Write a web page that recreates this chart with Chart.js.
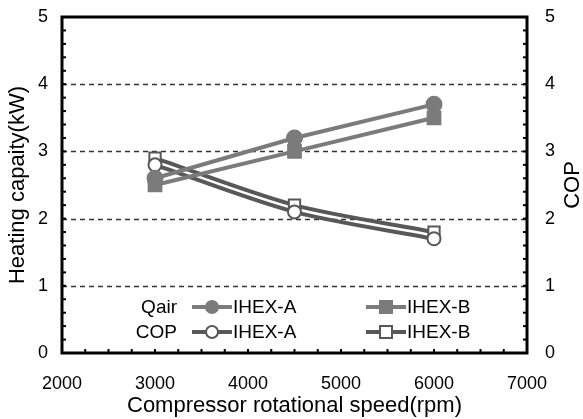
<!DOCTYPE html>
<html>
<head>
<meta charset="utf-8">
<script src="https://cdn.jsdelivr.net/npm/chart.js@4"></script>
<style>
  body { margin: 0; background: #fff; }
  #wrap { width: 583px; height: 419px; }
</style>
</head>
<body>
<div id="wrap"><canvas id="chart1" width="583" height="419"></canvas></div>
<script>
// rpm
var speeds = [3000, 4500, 6000]
// heating capacity, kW
var qairA = [2.6, 3.2, 3.7]
var qairB = [2.5, 3.0, 3.5]
// COP
var copA = [2.8, 2.1, 1.7]
var copB = [2.9, 2.2, 1.8]
var yTicks = [0, 1, 2, 3, 4, 5]
var xTicks = [2000, 3000, 4000, 5000, 6000, 7000]

var lightGray = '#7b7b7b'
var darkGray = '#585858'
var font = 'Liberation Sans, Arial, sans-serif'

function pts(xs, ys) {
  return xs.map(function (x, i) { return { x: x, y: ys[i] } })
}

// dashed grid, inner minor ticks, frame, right title
var framePlugin = {
  id: 'frame',
  beforeDatasetsDraw: function (chart) {
    var c = chart.ctx, a = chart.chartArea
    var yl = chart.scales.y
    c.save()
    c.strokeStyle = '#333'
    c.lineWidth = 1.5
    c.setLineDash([5, 4])
    for (var v = 1; v <= 4; v++) {
      var py = Math.round(yl.getPixelForValue(v)) + 0.5
      c.beginPath(); c.moveTo(a.left, py); c.lineTo(a.right, py); c.stroke()
    }
    c.restore()
  },
  afterDatasetsDraw: function (chart) {
    var c = chart.ctx, a = chart.chartArea
    var xs = chart.scales.x, yl = chart.scales.y
    c.save()
    c.strokeStyle = '#000'
    c.lineWidth = 2
    for (var v = 0.2; v < 5; v += 0.2) {
      var py = yl.getPixelForValue(v)
      c.beginPath(); c.moveTo(a.left, py); c.lineTo(a.left + 4, py); c.stroke()
      c.beginPath(); c.moveTo(a.right, py); c.lineTo(a.right - 4, py); c.stroke()
    }
    for (var r = 2250; r < 7000; r += 250) {
      var px = xs.getPixelForValue(r)
      c.beginPath(); c.moveTo(px, a.bottom); c.lineTo(px, a.bottom - 4); c.stroke()
    }
    c.lineWidth = 3
    c.strokeRect(a.left, a.top, a.right - a.left, a.bottom - a.top)

    // right axis title, reading bottom to top like the left one
    c.translate(a.right + 46, (a.top + a.bottom) / 2)
    c.rotate(-Math.PI / 2)
    c.fillStyle = '#000'
    c.font = '22px ' + font
    c.textAlign = 'center'
    c.textBaseline = 'middle'
    c.fillText('COP', 0, 0)
    c.restore()
  }
}

// legend drawn inside the plot
var legendPlugin = {
  id: 'innerLegend',
  afterDraw: function (chart) {
    var c = chart.ctx, a = chart.chartArea
    var rows = [
      { name: 'Qair', items: [[0, 'IHEX-A'], [1, 'IHEX-B']] },
      { name: 'COP', items: [[2, 'IHEX-A'], [3, 'IHEX-B']] }
    ]
    c.save()
    c.font = '19px ' + font
    c.textBaseline = 'middle'
    rows.forEach(function (row, ri) {
      var y = a.bottom - 46 + ri * 25
      c.fillStyle = '#000'
      c.textAlign = 'right'
      c.fillText(row.name, a.left + 115, y + 1)
      row.items.forEach(function (it, ii) {
        var ds = chart.data.datasets[it[0]]
        var x0 = a.left + 130 + ii * 174
        c.strokeStyle = ds.borderColor
        c.lineWidth = 4
        c.beginPath(); c.moveTo(x0, y); c.lineTo(x0 + 40, y); c.stroke()
        var mx = x0 + 20
        c.fillStyle = ds.pointBackgroundColor
        c.strokeStyle = ds.pointBorderColor
        c.lineWidth = 2
        if (ds.pointStyle === 'circle') {
          c.beginPath(); c.arc(mx, y, 6, 0, Math.PI * 2); c.fill(); c.stroke()
        } else {
          c.fillRect(mx - 6, y - 6, 12, 12); c.strokeRect(mx - 6, y - 6, 12, 12)
        }
        c.fillStyle = '#000'
        c.textAlign = 'left'
        c.fillText(it[1], x0 + 41, y + 1)
      })
    })
    c.restore()
  }
}

var data = {
  datasets: [{
    data: pts(speeds, qairA),
    borderColor: lightGray,
    pointBackgroundColor: lightGray,
    pointBorderColor: lightGray,
    pointStyle: 'circle',
    pointRadius: 7.5,
    yAxisID: 'y'
  }, {
    data: pts(speeds, qairB),
    borderColor: lightGray,
    pointBackgroundColor: lightGray,
    pointBorderColor: lightGray,
    pointStyle: 'rect',
    pointRadius: 9,
    yAxisID: 'y'
  }, {
    data: pts(speeds, copA),
    borderColor: darkGray,
    pointBackgroundColor: '#fff',
    pointBorderColor: darkGray,
    pointStyle: 'circle',
    pointRadius: 6.5,
    tension: 0.3,
    yAxisID: 'y1'
  }, {
    data: pts(speeds, copB),
    borderColor: darkGray,
    pointBackgroundColor: '#fff',
    pointBorderColor: darkGray,
    pointStyle: 'rect',
    pointRadius: 8,
    tension: 0.3,
    yAxisID: 'y1'
  }]
}

var tickFont = { family: font, size: 18 }
var titleFont = { family: font, size: 22, lineHeight: 1 }

// fixed axis sizes so the plot box sits where the original one does
function fitY(w) {
  return function (s) { s.width = w; s.paddingTop = 10; s.paddingBottom = 10 }
}

new Chart(document.getElementById('chart1').getContext('2d'), {
  type: 'line',
  data: data,
  plugins: [framePlugin, legendPlugin],
  options: {
    responsive: false,
    animation: false,
    layout: { autoPadding: false, padding: { top: 17, right: 0, left: 0, bottom: 0 } },
    elements: {
      line: { borderWidth: 4 },
      point: { borderWidth: 2 }
    },
    plugins: { legend: { display: false }, tooltip: { enabled: false } },
    scales: {
      x: {
        type: 'linear', min: 2000, max: 7000,
        afterBuildTicks: function (s) { s.ticks = xTicks.map(function (v) { return { value: v } }) },
        afterFit: function (s) { s.height = 66 },
        grid: { display: false, drawTicks: false },
        border: { display: false },
        ticks: { color: '#000', font: tickFont, padding: 20, maxRotation: 0, callback: function (v) { return String(v) } },
        title: { display: true, text: 'Compressor rotational speed(rpm)', color: '#000', font: titleFont, padding: { top: 0, bottom: 2 } }
      },
      y: {
        position: 'left', min: 0, max: 5,
        afterBuildTicks: function (s) { s.ticks = yTicks.map(function (v) { return { value: v } }) },
        afterFit: fitY(62),
        grid: { display: false, drawTicks: false },
        border: { display: false },
        ticks: { color: '#000', font: tickFont, padding: 14 },
        title: { display: true, text: 'Heating capaity(kW)', color: '#000', font: titleFont, padding: { top: 7, bottom: 0 } }
      },
      y1: {
        position: 'right', min: 0, max: 5,
        afterBuildTicks: function (s) { s.ticks = yTicks.map(function (v) { return { value: v } }) },
        afterFit: fitY(56),
        grid: { display: false, drawTicks: false },
        border: { display: false },
        ticks: { color: '#000', font: tickFont, padding: 18 }
      }
    }
  }
})
</script>
</body>
</html>
